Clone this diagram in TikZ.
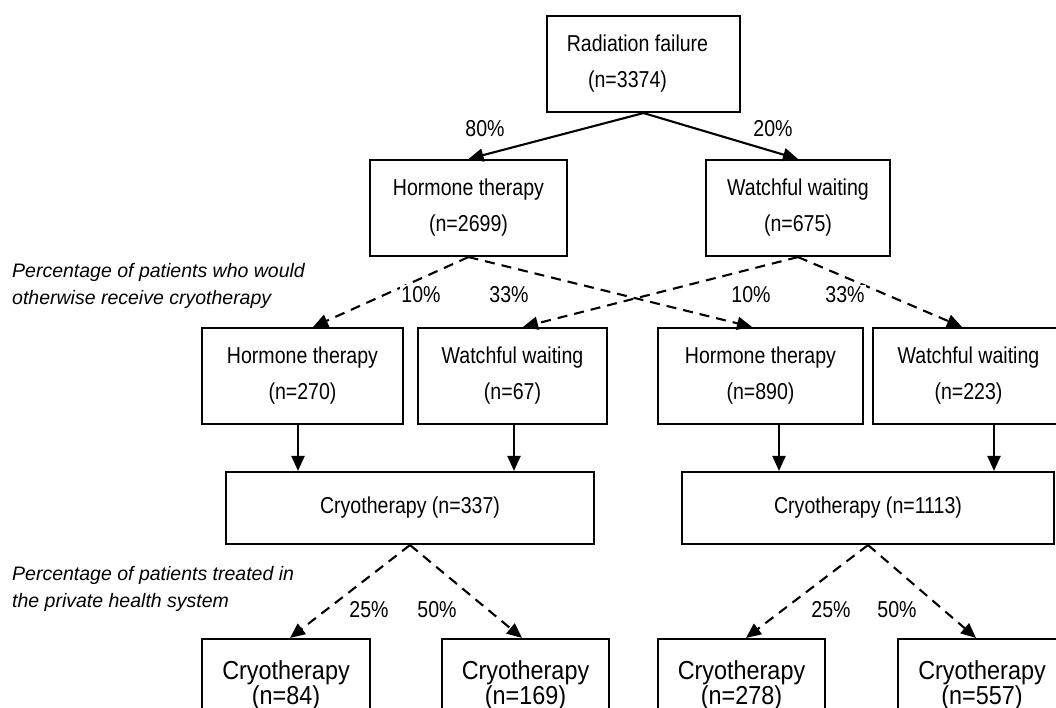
\documentclass[tikz,border=0pt]{standalone}
\usepackage{fontspec}
\usetikzlibrary{arrows.meta}
\newfontfamily\boxfont[FakeStretch=0.85]{Liberation Sans}
\newfontfamily\endfont[FakeStretch=0.9]{Liberation Sans}
\newfontfamily\notefont{Liberation Sans}

\tikzset{
  box/.style={draw, line width=2.1pt, rectangle, inner sep=0pt, align=center,
    font=\boxfont\fontsize{23}{36}\selectfont},
  midbox/.style={box, minimum height=96pt},
  cryobox/.style={box, minimum height=72pt},
  endbox/.style={box, minimum height=92pt, font=\endfont\fontsize{26}{22}\selectfont},
  solidarr/.style={line width=2.1pt, -{Triangle[length=15pt,width=13pt]}},
  dasharr/.style={line width=2.1pt, dash pattern=on 10pt off 7pt,
    -{Triangle[length=15pt,width=13pt]}},
  pct/.style={fill=white, inner sep=1.5pt, font=\boxfont\fontsize{23}{24}\selectfont},
  note/.style={align=left, anchor=west, inner sep=0pt,
    font=\notefont\itshape\fontsize{19.5}{27}\selectfont},
}

\begin{document}
\begin{tikzpicture}[x=1pt, y=-1pt]
\useasboundingbox (0,0) rectangle (1056,708);

% first split
\node[midbox, minimum width=193pt] (rad) at (643.5,64) {\hspace*{-12pt}Radiation failure\\\hspace*{-32pt}(n=3374)};
\node[midbox, minimum width=197pt] (ht)  at (468.5,208) {Hormone therapy\\(n=2699)};
\node[midbox, minimum width=184pt] (ww)  at (798,208)   {Watchful waiting\\(n=675)};

% patients who would otherwise receive cryotherapy
\node[midbox, minimum width=201pt] (h270) at (302.5,376) {Hormone therapy\\(n=270)};
\node[midbox, minimum width=189pt] (w67)  at (512.5,376) {Watchful waiting\\(n=67)};
\node[midbox, minimum width=205pt] (h890) at (760.5,376) {Hormone therapy\\(n=890)};
\node[midbox, minimum width=191pt] (w223) at (968.5,376) {Watchful waiting\\(n=223)};

% pooled cryotherapy
\node[cryobox, minimum width=368pt] (c337)  at (410,508) {Cryotherapy (n=337)};
\node[cryobox, minimum width=372pt] (c1113) at (868,508) {Cryotherapy (n=1113)};

% private health system
\node[endbox, minimum width=168pt] (k84)  at (286,685)   {Cryotherapy\\(n=84)};
\node[endbox, minimum width=167pt] (k169) at (525.5,685) {Cryotherapy\\(n=169)};
\node[endbox, minimum width=167pt] (k278) at (741.5,685) {Cryotherapy\\(n=278)};
\node[endbox, minimum width=168pt] (k557) at (982,685)   {Cryotherapy\\(n=557)};

% side notes
\node[note] (note1) at (12,285.5) {Percentage of patients who would\\otherwise receive cryotherapy};
\node[note] (note2) at (12,589) {Percentage of patients treated in\\the private health system};

% solid arrows from radiation failure
\draw[solidarr] (rad.south) -- (ht.north);
\draw[solidarr] (rad.south) -- (ww.north);

% dashed split into the four cryotherapy groups
\draw[dasharr] (ht.south) -- ([xshift=10.5pt]h270.north);
\draw[dasharr] (ht.south) -- ([xshift=-8.5pt]h890.north);
\draw[dasharr] (ww.south) -- ([xshift=10.5pt]w67.north);
\draw[dasharr] (ww.south) -- ([xshift=-6.5pt]w223.north);

% feeders into the pooled boxes
\coordinate (f1) at ([xshift=-4.5pt]h270.south);
\coordinate (f2) at ([xshift=1.5pt]w67.south);
\coordinate (f3) at ([xshift=18.5pt]h890.south);
\coordinate (f4) at ([xshift=25.5pt]w223.south);
\draw[solidarr] (f1) -- (f1 |- c337.north);
\draw[solidarr] (f2) -- (f2 |- c337.north);
\draw[solidarr] (f3) -- (f3 |- c1113.north);
\draw[solidarr] (f4) -- (f4 |- c1113.north);

% dashed split into private health system
\draw[dasharr] (c337.south) -- ([xshift=4pt]k84.north);
\draw[dasharr] (c337.south) -- ([xshift=-3.5pt]k169.north);
\draw[dasharr] (c1113.south) -- ([xshift=4.5pt]k278.north);
\draw[dasharr] (c1113.south) -- ([xshift=-6pt]k557.north);

% percentages
\node[pct] (p80) at (485,129) {80\%};
\node[pct] (p20) at (773,129) {20\%};
\node[pct] (p10a) at (421,295) {10\%};
\node[pct] (p33a) at (509,295) {33\%};
\node[pct] (p10b) at (751,295) {10\%};
\node[pct] (p33b) at (845,295) {33\%};
\node[pct] (p25a) at (369,610) {25\%};
\node[pct] (p50a) at (437,610) {50\%};
\node[pct] (p25b) at (831,610) {25\%};
\node[pct] (p50b) at (897,610) {50\%};
\end{tikzpicture}
\end{document}
